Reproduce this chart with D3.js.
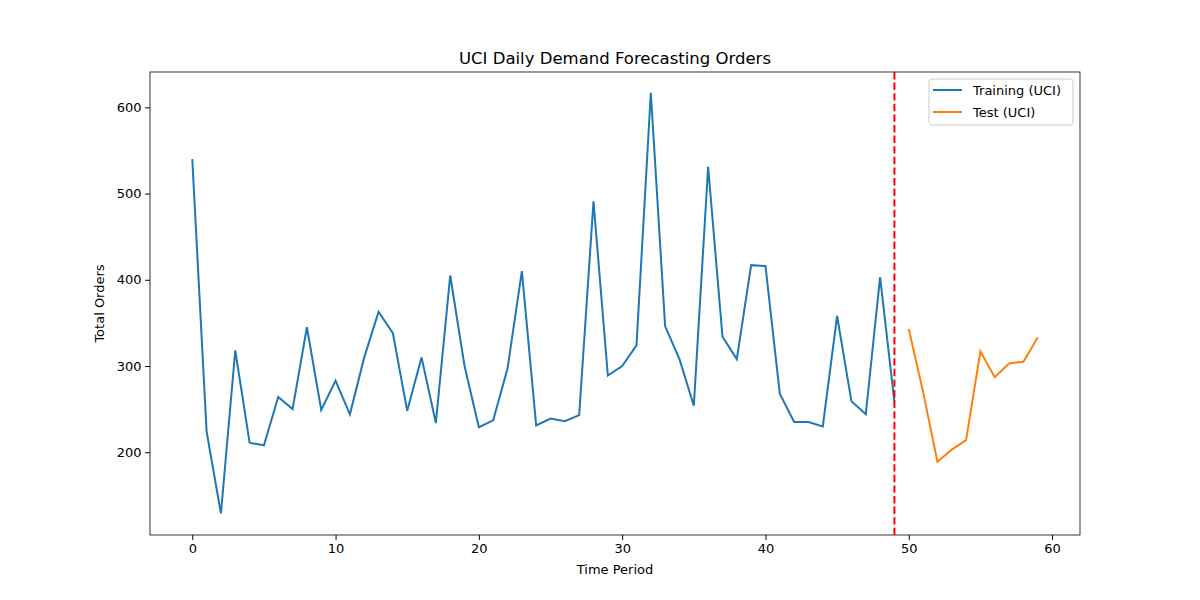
<!DOCTYPE html><html><head><meta charset="utf-8"><script src="https://cdn.jsdelivr.net/npm/d3@7"></script>
<style>body{margin:0;background:#fff;font-family:"DejaVu Sans",sans-serif}</style></head><body><svg id="c" width="1200" height="600"></svg>
<script>
const trainValues=[540,224,129,318,211,208,264,250,345,249,283,244,310,363,338,248,310,234,405,300,229,237,297,410,231,239,236,243,491,289,300,324,617,346,308,254,531,334,308,417,416,268,235,235,230,358,259,244,403,258];
const testValues=[343,270,189,203,214,317,287,303,305,333];
const testStart=50, splitAt=49;
const xTicks=[0,10,20,30,40,50,60], yTicks=[200,300,400,500,600];
const svg=d3.select("#c");
const L=150,R=1080,T=72,B=535;
const x=d3.scaleLinear().domain([-2.95,61.95]).range([L,R]);
const y=d3.scaleLinear().domain([104,641]).range([B,T]);
const g=svg.append("g");
g.append("g").attr("transform",`translate(0,${B})`).call(d3.axisBottom(x).tickValues(xTicks).tickSize(4.9).tickPadding(3.5));
g.append("g").attr("transform",`translate(${L},0)`).call(d3.axisLeft(y).tickValues(yTicks).tickSize(4.9).tickPadding(3.5));
g.selectAll(".domain").remove();
g.selectAll("text").attr("font-size",13).attr("font-family","DejaVu Sans").attr("fill","#000");
svg.append("rect").attr("x",L).attr("y",T).attr("width",R-L).attr("height",B-T).attr("fill","none").attr("stroke","#000").attr("stroke-width",0.8);
const line=d3.line().x(d=>x(d[0])).y(d=>y(d[1]));
svg.append("path").attr("d",line(trainValues.map((v,i)=>[i,v]))).attr("fill","none").attr("stroke","#1f77b4").attr("stroke-width",2);
svg.append("path").attr("d",line(testValues.map((v,i)=>[i+testStart,v]))).attr("fill","none").attr("stroke","#ff7f0e").attr("stroke-width",2);
svg.append("line").attr("x1",x(splitAt)).attr("x2",x(splitAt)).attr("y1",T).attr("y2",B).attr("stroke","red").attr("stroke-width",2).attr("stroke-dasharray","7.4,3.2");
svg.append("text").attr("x",(L+R)/2).attr("y",64).attr("text-anchor","middle").attr("font-size",16.5).text("UCI Daily Demand Forecasting Orders");
svg.append("text").attr("x",(L+R)/2).attr("y",574).attr("text-anchor","middle").attr("font-size",13).text("Time Period");
svg.append("text").attr("transform",`translate(104,${(T+B)/2}) rotate(-90)`).attr("text-anchor","middle").attr("font-size",13).text("Total Orders");
const lg=svg.append("g").attr("transform","translate(929,79)");
lg.append("rect").attr("width",144).attr("height",46).attr("rx",3).attr("fill","#fff").attr("stroke","#ccc");
[["Training (UCI)","#1f77b4"],["Test (UCI)","#ff7f0e"]].forEach((d,i)=>{
 lg.append("line").attr("x1",4).attr("x2",33).attr("y1",11+i*22).attr("y2",11+i*22).attr("stroke",d[1]).attr("stroke-width",2);
 lg.append("text").attr("x",44).attr("y",15.5+i*22).attr("font-size",13).text(d[0]);
});
</script></body></html>
